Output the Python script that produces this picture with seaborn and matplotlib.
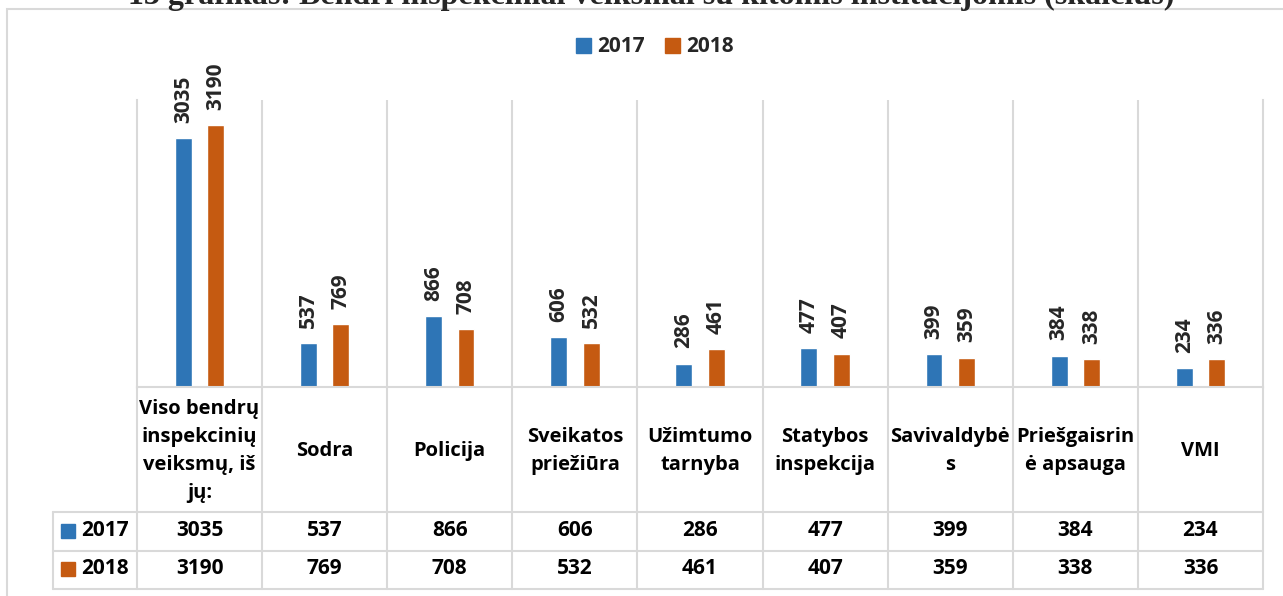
import pandas as pd
import matplotlib
matplotlib.use("Agg")
import matplotlib.pyplot as plt
import seaborn as sns
from matplotlib.patches import Patch, Rectangle

# --- data ---
categories = ["Viso bendrų\ninspekcinių\nveiksmų, iš\njų:", "Sodra", "Policija",
              "Sveikatos\npriežiūra", "Užimtumo\ntarnyba", "Statybos\ninspekcija",
              "Savivaldybė\ns", "Priešgaisrin\nė apsauga", "VMI"]
years = ["2017", "2018"]
values_2017 = [3035, 537, 866, 606, 286, 477, 399, 384, 234]
values_2018 = [3190, 769, 708, 532, 461, 407, 359, 338, 336]
colors = ["#2E75B6", "#C55A11"]
title = "13 grafikas: Bendri inspekciniai veiksmai su kitomis institucijomis (skaičius)"

df = pd.DataFrame({
    "category": categories * 2,
    "year": [years[0]] * len(categories) + [years[1]] * len(categories),
    "value": values_2017 + values_2018,
})

sns.set_theme(style="white")
plt.rcParams["font.family"] = ["Open Sans", "DejaVu Sans"]
plt.rcParams["font.weight"] = "bold"

W, H = 1283, 596
GRID = "#d9d9d9"
FS = 15
FS_HEAD = 14.5
fig = plt.figure(figsize=(W / 100, H / 100), dpi=100)


def box(l, t, r, b):
    # pixel box -> figure fraction rect
    return [l / W, 1 - b / H, (r - l) / W, (b - t) / H]


# chart area border (runs off the right/bottom edge)
fig.add_artist(Rectangle((7 / W, -0.1), 1.2, 1 - 9 / H + 0.1, transform=fig.transFigure,
                         fill=False, ec=GRID, lw=1.5))

# title, mostly cut off by the top edge (as in the source)
fig.text(651 / W, 1 - 4 / H, title, ha="center", va="baseline",
         family="Liberation Serif", weight="bold", fontsize=23)

# --- bars ---
ax = fig.add_axes(box(137, 100, 1263, 387))
sns.barplot(data=df, x="category", y="value", hue="year", palette=colors,
            width=0.52, gap=0.48, saturation=1, legend=False, ax=ax)
for cont, vals in zip(ax.containers, [values_2017, values_2018]):
    ax.bar_label(cont, labels=[str(v) for v in vals], rotation=90, padding=11,
                 fontsize=FS, fontweight="bold")
ax.set_xlim(-0.5, len(categories) - 0.5)
ax.set_ylim(0, 3500)
ax.set_xticks([])
ax.set_yticks([])
ax.set_xlabel("")
ax.set_ylabel("")
ax.set_facecolor("none")
ax.spines["top"].set_visible(False)
for s in ["left", "right", "bottom"]:
    ax.spines[s].set_color(GRID)
    ax.spines[s].set_linewidth(1.5)
for i in range(len(categories) - 1):
    ax.axvline(i + 0.5, color=GRID, lw=1.5)

# --- data table under the axis ---
n = len(categories)
unit = (1263 - 137) / n
x0 = -0.5 - (137 - 53) / unit
tax = fig.add_axes(box(53, 387, 1263, 589))
tax.set_xlim(x0, n - 0.5)
tax.set_ylim(202, 0)
tax.axis("off")

for k in range(n + 1):
    tax.plot([k - 0.5, k - 0.5], [0, 202], color=GRID, lw=1.5, clip_on=False)
tax.plot([x0, x0], [125, 202], color=GRID, lw=1.5, clip_on=False)
for yy in [125, 163.5, 202]:
    tax.plot([x0, n - 0.5], [yy, yy], color=GRID, lw=1.5, clip_on=False)

for i, cat in enumerate(categories):
    tax.text(i, 64, cat, ha="center", va="center", linespacing=1.52,
             fontsize=FS_HEAD, fontweight="bold", color="black")

row_y = [144, 182]
for ry, yr, vals, c in zip(row_y, years, [values_2017, values_2018], colors):
    tax.plot([x0 + 15 / unit], [ry], marker="s", ms=10, color=c, clip_on=False)
    tax.text(x0 + 28 / unit, ry, yr, ha="left", va="center",
             fontsize=FS, fontweight="bold", color="black")
    for i, v in enumerate(vals):
        tax.text(i, ry, str(v), ha="center", va="center",
                 fontsize=FS, fontweight="bold", color="black")

# --- legend ---
handles = [Patch(color=c, label=y) for c, y in zip(colors, years)]
fig.legend(handles=handles, loc="center", bbox_to_anchor=(655 / W, 1 - 47 / H), ncol=2,
           frameon=False, handlelength=0.7, handleheight=0.7, handletextpad=0.3,
           columnspacing=1.0, prop={"size": FS, "weight": "bold"})

fig.savefig("out.png", dpi=100)
